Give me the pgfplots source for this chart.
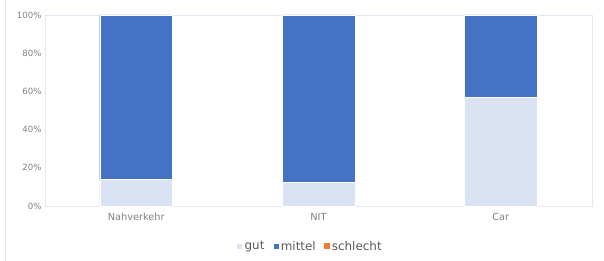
\documentclass[border=0pt]{standalone}
\usepackage{pgfplots}
\pgfplotsset{compat=1.18}
\usepackage{fontspec}
\setmainfont{DejaVu Sans}
\definecolor{gut}{HTML}{DAE3F3}
\definecolor{mittel}{HTML}{4472C4}
\definecolor{schlecht}{HTML}{ED7D31}
\definecolor{txt}{HTML}{595959}
\definecolor{tick}{HTML}{808080}
\definecolor{frame}{HTML}{E3E9F2}
\begin{document}
\begin{tikzpicture}
\path[use as bounding box] (-45bp,-55bp) rectangle (559bp,206bp);
\draw[color=frame!70!blue!30, line width=0.8bp] (-40bp,-55bp) -- (-40bp,206bp);
\begin{axis}[
  at={(0,0)}, anchor=south west,
  scale only axis, width=547bp, height=191bp,
  ybar stacked, bar width=0.4,
  xmin=-0.5, xmax=2.5, ymin=0, ymax=100,
  xtick={0,1,2}, xticklabels={Nahverkehr,NIT,Car},
  ytick={0,20,40,60,80,100},
  yticklabel={\pgfmathprintnumber{\tick}\%},
  /pgf/number format/assume math mode=true,
  tick style={draw=none},
  axis line style={draw=frame},
  ticklabel style={font=\fontsize{8.6}{10}\selectfont, text=tick},
  xticklabel style={font=\fontsize{9.8}{11}\selectfont, text=tick, yshift=-4bp},
  yticklabel style={xshift=0bp},
  legend style={at={(0.4845,-0.211)}, anchor=center, draw=none, fill=none,
     legend columns=3, font=\fontsize{12}{14}\selectfont, text=txt,
     /tikz/every even column/.append style={column sep=6bp},
     /tikz/every odd column/.append style={inner xsep=1.5bp}},
  legend image code/.code={\fill[#1] (0bp,-3bp) rectangle (6bp,3bp);},
]
\addplot[fill=gut, draw=white, line width=0.3bp] coordinates {(0,14) (1,12.5) (2,57)};
\addlegendentry{gut}
\addplot[fill=mittel, draw=white, line width=0.3bp] coordinates {(0,86) (1,87.5) (2,43)};
\addlegendentry{mittel}
\addlegendimage{fill=schlecht, draw=none}
\addlegendentry{schlecht}
\end{axis}
\end{tikzpicture}
\end{document}
